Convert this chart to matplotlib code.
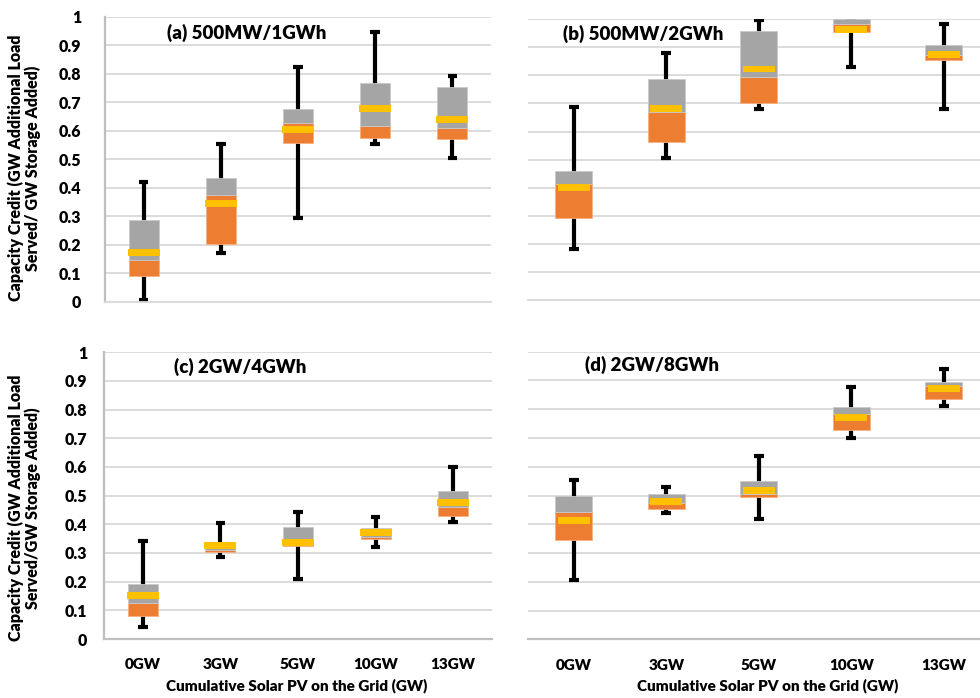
import matplotlib
matplotlib.use("Agg")
import matplotlib.pyplot as plt
import numpy as np

plt.rcParams['font.family'] = ['Lato', 'DejaVu Sans']

categories = ["0GW", "3GW", "5GW", "10GW", "13GW"]
y_ticks = [0, 0.1, 0.2, 0.3, 0.4, 0.5, 0.6, 0.7, 0.8, 0.9, 1]
y_tick_labels = ["0", "0.1", "0.2", "0.3", "0.4", "0.5", "0.6", "0.7", "0.8", "0.9", "1"]

titles = ["(a) 500MW/1GWh", "(b) 500MW/2GWh", "(c) 2GW/4GWh", "(d) 2GW/8GWh"]

# panel (a)
a_min = [0.007, 0.172, 0.295, 0.553, 0.504]
a_q1 = [0.090, 0.202, 0.558, 0.575, 0.570]
a_med = [0.147, 0.374, 0.626, 0.618, 0.608]
a_q3 = [0.286, 0.433, 0.675, 0.767, 0.753]
a_max = [0.419, 0.552, 0.825, 0.945, 0.791]
a_mean = [0.173, 0.345, 0.605, 0.679, 0.638]

# panel (b)
b_min = [0.181, 0.505, 0.680, 0.830, 0.681]
b_q1 = [0.294, 0.561, 0.701, 0.955, 0.853]
b_med = [0.413, 0.671, 0.795, 0.981, 0.872]
b_q3 = [0.460, 0.787, 0.958, 1.000, 0.908]
b_max = [0.688, 0.880, 0.995, 0.995, 0.981]
b_mean = [0.402, 0.683, 0.822, 0.962, 0.874]

# panel (c)
c_min = [0.042, 0.286, 0.208, 0.322, 0.407]
c_q1 = [0.081, 0.305, 0.323, 0.349, 0.430]
c_med = [0.125, 0.310, 0.328, 0.357, 0.461]
c_q3 = [0.191, 0.335, 0.391, 0.386, 0.516]
c_max = [0.341, 0.404, 0.442, 0.424, 0.599]
c_mean = [0.153, 0.325, 0.337, 0.371, 0.477]

# panel (d)
d_min = [0.206, 0.438, 0.418, 0.699, 0.810]
d_q1 = [0.344, 0.454, 0.496, 0.727, 0.834]
d_med = [0.444, 0.475, 0.506, 0.782, 0.880]
d_q3 = [0.499, 0.506, 0.549, 0.807, 0.896]
d_max = [0.554, 0.531, 0.637, 0.877, 0.940]
d_mean = [0.414, 0.480, 0.518, 0.772, 0.872]

panels = [
    (a_min, a_q1, a_med, a_q3, a_max, a_mean),
    (b_min, b_q1, b_med, b_q3, b_max, b_mean),
    (c_min, c_q1, c_med, c_q3, c_max, c_mean),
    (d_min, d_q1, d_med, d_q3, d_max, d_mean),
]

W, H = 980, 698
fig = plt.figure(figsize=(W / 100, H / 100), dpi=100)

# axes boxes in pixels: left, right, top, bottom
boxes_px = [
    (105, 491, 16.7, 301.7),
    (527.5, 990, 19, 300.3),
    (104, 492, 352.3, 639),
    (527.5, 990, 351.7, 639.3),
]

ORANGE = "#ED7D31"
GRAY = "#A5A5A5"
YELLOW = "#FFC000"
GRID = "#D9D9D9"
SPINE = "#BFBFBF"
FW = "heavy"

x = np.arange(len(categories))
for i, (bx, data) in enumerate(zip(boxes_px, panels)):
    l, r, t, b = bx
    ax = fig.add_axes([l / W, 1 - b / H, (r - l) / W, (b - t) / H])
    wmin, q1, med, q3, wmax, mean = [np.array(v) for v in data]
    px_per_unit = (r - l) / 5.0
    box_w = (30 if i in (0, 2) else 36.7) / px_per_unit
    yel_w = 32 / px_per_unit
    cap_hw = 4.8 / px_per_unit
    yel_h = 6.8 / (b - t)

    ax.set_xlim(-0.5, 4.5)
    ax.set_ylim(0, 1)
    ax.set_yticks(y_ticks)
    ax.yaxis.grid(True, color=GRID, linewidth=1.3)
    ax.set_axisbelow(True)

    # whiskers
    ax.vlines(x, wmin, wmax, color="black", linewidth=3.0, zorder=2)
    for yy in (wmin, wmax):
        ax.hlines(yy, x - cap_hw, x + cap_hw, color="black", linewidth=3.0, zorder=2)

    # boxes
    ax.bar(x, med - q1, bottom=q1, width=box_w, color=ORANGE,
           edgecolor="#F4B183", linewidth=0.6, zorder=3)
    ax.bar(x, q3 - med, bottom=med, width=box_w, color=GRAY,
           edgecolor="#C9C9C9", linewidth=0.6, zorder=3)
    ax.bar(x, yel_h, bottom=mean - yel_h / 2, width=yel_w, color=YELLOW,
           linewidth=0, zorder=4)

    for s in ("top", "right"):
        ax.spines[s].set_visible(False)
    if i in (0, 2):
        ax.spines["left"].set_color(SPINE)
        ax.spines["left"].set_linewidth(1.6)
        pad = 17 if i == 0 else 12
        ax.set_yticklabels(y_tick_labels, fontsize=11.5, fontweight=FW)
        ax.tick_params(axis="y", length=0, pad=pad)
    else:
        ax.spines["left"].set_visible(False)
        ax.tick_params(axis="y", length=0, labelleft=False)
    if i in (2, 3):
        ax.spines["bottom"].set_color(SPINE)
        ax.spines["bottom"].set_linewidth(1.6)
        ax.set_xticks(x)
        ax.set_xticklabels(categories, fontsize=11, fontweight=FW)
        ax.tick_params(axis="x", length=0, pad=14)
    else:
        ax.spines["bottom"].set_color(GRID)
        ax.spines["bottom"].set_linewidth(1.3)
        ax.set_xticks(x)
        ax.tick_params(axis="x", length=0, labelbottom=False)

title_pos = [(247, 32.5), (643.5, 33.5), (240.3, 366.7), (651.5, 365)]
for ttl, (tx, ty) in zip(titles, title_pos):
    fig.text(tx / W, 1 - ty / H, ttl, fontsize=13.5, fontweight=FW,
             ha="center", va="center")

fig.text(24.5 / W, 1 - 168 / H,
         "Capacity Credit (GW Additional Load\nServed/ GW Storage Added)",
         rotation=90, ha="center", va="center", multialignment="center",
         fontsize=11.5, fontweight=FW, linespacing=1.05)
fig.text(24.5 / W, 1 - 508 / H,
         "Capacity Credit (GW Additional Load\nServed/GW Storage Added)",
         rotation=90, ha="center", va="center", multialignment="center",
         fontsize=11.5, fontweight=FW, linespacing=1.05)

fig.text(297 / W, 1 - 686 / H, "Cumulative Solar PV on the Grid (GW)",
         ha="center", va="center", fontsize=11, fontweight=FW)
fig.text(768 / W, 1 - 686 / H, "Cumulative Solar PV on the Grid (GW)",
         ha="center", va="center", fontsize=11, fontweight=FW)

fig.savefig("out.png", dpi=100)
